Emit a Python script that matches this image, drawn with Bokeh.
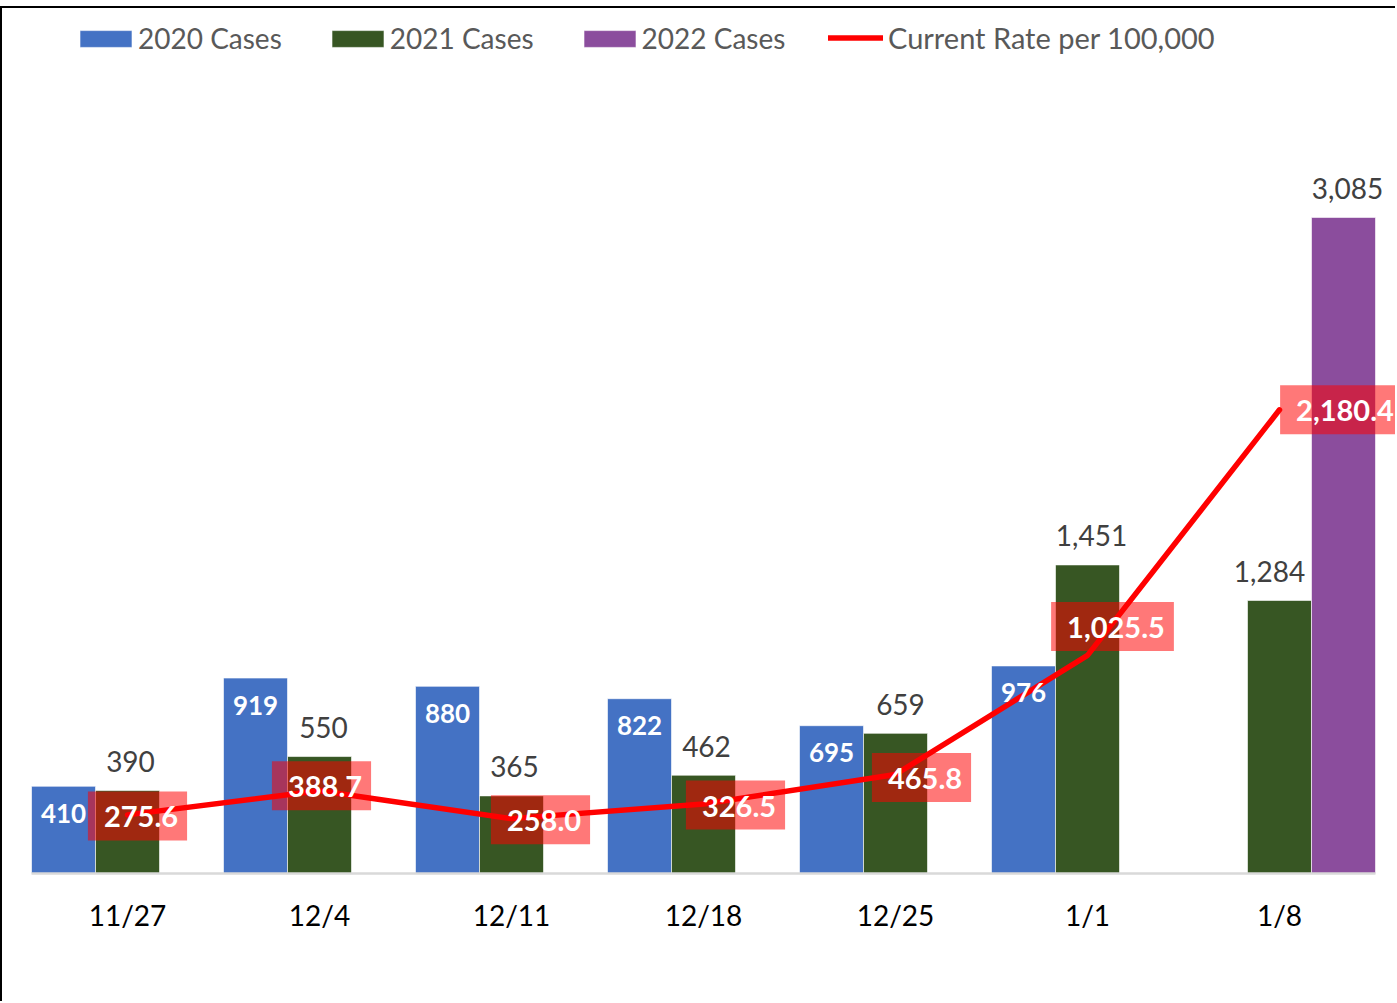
import math
from bokeh.plotting import figure
from bokeh.models import (ColumnDataSource, Range1d, LabelSet, Label,
                          Legend, LegendItem, FixedTicker)
from bokeh.transform import dodge
from bokeh.core.properties import value
from bokeh.embed import file_html
from bokeh.resources import INLINE

# ---------------- data ----------------
weeks = ["11/27", "12/4", "12/11", "12/18", "12/25", "1/1", "1/8"]
cases_2020 = [410, 919, 880, 822, 695, 976, None]
cases_2021 = [390, 550, 365, 462, 659, 1451, 1284]
cases_2022 = [None, None, None, None, None, None, 3085]
rate_per_100k = [275.6, 388.7, 258.0, 326.5, 465.8, 1025.5, 2180.4]

# label placement (screen px offsets of the label boxes)
rate_label_dx = [10, 2, 29, 32, 26, 25, 62]
rate_label_dy = [-1, 5, -1, -1, -3, 29, 0]
cases_2021_label_dx = [3, 4, 3, 3, 5, 4, -10]

BLUE = "#4472C4"
GREEN = "#375623"
PURPLE = "#8B4D9D"
RED = "#FF0000"
FONT = "Lato"


def nan(v):
    return float("nan") if v is None else v


centers = [i + 0.5 for i in range(len(weeks))]   # category centres on a numeric scale

src = ColumnDataSource(dict(
    xc=centers,
    c20=[nan(v) for v in cases_2020],
    c21=[nan(v) for v in cases_2021],
    c22=[nan(v) for v in cases_2022],
    rate=rate_per_100k,
))

# plot area runs slightly past the last category so the last label is not clipped
p = figure(x_range=Range1d(0, len(weeks) + 22 / 192),
           y_range=Range1d(0, 4011),
           width=1395, height=995,
           output_backend="svg", toolbar_location=None,
           y_axis_location=None,
           min_border_left=29, min_border_right=0,
           min_border_top=12, min_border_bottom=130,
           outline_line_color=None,
           background_fill_color="white", border_fill_color="white")
p.styles = {"border-top": "2px solid black", "border-left": "2px solid black",
            "margin-top": "6px"}
p.xgrid.visible = False
p.ygrid.visible = False

bw = 1 / 3
r20 = p.vbar(x=dodge("xc", -bw), top="c20", width=bw,
             source=src, fill_color=BLUE, line_color="white", line_width=1, line_alpha=0.6)
r21 = p.vbar(x=dodge("xc", 0), top="c21", width=bw,
             source=src, fill_color=GREEN, line_color="white", line_width=1, line_alpha=0.6)
r22 = p.vbar(x=dodge("xc", bw), top="c22", width=bw,
             source=src, fill_color=PURPLE, line_color="white", line_width=1, line_alpha=0.6)
rl = p.line(x="xc", y="rate", source=src, line_color=RED, line_width=5.5,
            line_cap="round", line_join="round")

# axis
ax = p.xaxis[0]
ax.ticker = FixedTicker(ticks=centers)
ax.major_label_overrides = {c: w for c, w in zip(centers, weeks)}
ax.bounds = (0, len(weeks))
ax.axis_line_color = "#D9D9D9"
ax.axis_line_width = 2.5
ax.major_tick_line_color = None
ax.minor_tick_line_color = None
ax.major_tick_out = 0
ax.major_tick_in = 0
ax.major_label_standoff = 24
ax.major_label_text_font = FONT
ax.major_label_text_font_size = "28px"
ax.major_label_text_color = "black"

# bar value labels
s20 = ColumnDataSource(dict(
    xc=[c for c, v in zip(centers, cases_2020) if v is not None],
    v=[v for v in cases_2020 if v is not None],
    t=[f"{v:,}" for v in cases_2020 if v is not None]))
p.add_layout(LabelSet(x=dodge("xc", -bw), y="v", text="t", source=s20,
                      y_offset=-27, text_align="center", text_baseline="middle",
                      text_font=value(FONT), text_font_size="26px", text_font_style="bold",
                      text_color="white"))

for vals, off, dxs in ((cases_2021, 0, cases_2021_label_dx),
                       (cases_2022, bw, [4] * len(weeks))):
    s = ColumnDataSource(dict(
        xc=[c for c, v in zip(centers, vals) if v is not None],
        v=[v for v in vals if v is not None],
        dx=[d for d, v in zip(dxs, vals) if v is not None],
        t=[f"{v:,}" for v in vals if v is not None]))
    p.add_layout(LabelSet(x=dodge("xc", off), y="v", text="t", source=s,
                          x_offset="dx", y_offset=29,
                          text_align="center", text_baseline="middle",
                          text_font=value(FONT), text_font_size="28px",
                          text_color="#404040"))

# rate labels with translucent red boxes (padding: left, right, top, bottom)
for c, r, dx, dy in zip(centers, rate_per_100k, rate_label_dx, rate_label_dy):
    p.add_layout(Label(x=c, y=r, x_offset=dx, y_offset=dy, text=f"{r:,.1f}",
                       text_align="center", text_baseline="middle",
                       text_font=FONT, text_font_size="29px", text_font_style="bold",
                       text_color="white",
                       background_fill_color=RED, background_fill_alpha=0.53,
                       padding=(16, 9, 15, 13)))

legend = Legend(items=[LegendItem(label="2020 Cases", renderers=[r20]),
                       LegendItem(label="2021 Cases", renderers=[r21]),
                       LegendItem(label="2022 Cases", renderers=[r22])],
                orientation="horizontal", location=(42, 818),
                padding=0, margin=0, border_line_color=None,
                background_fill_alpha=0,
                label_text_font=FONT, label_text_font_size="28px",
                label_text_color="#595959",
                glyph_width=65, glyph_height=21, label_standoff=0, spacing=43)
p.add_layout(legend)

legend2 = Legend(items=[LegendItem(label="Current Rate per 100,000", renderers=[rl])],
                 orientation="horizontal", location=(797, 818),
                 padding=0, margin=0, border_line_color=None,
                 background_fill_alpha=0,
                 label_text_font=FONT, label_text_font_size="29px",
                 label_text_color="#595959",
                 glyph_width=55, glyph_height=21, label_standoff=5)
p.add_layout(legend2)

open("out.html", "w").write(file_html(p, INLINE))
